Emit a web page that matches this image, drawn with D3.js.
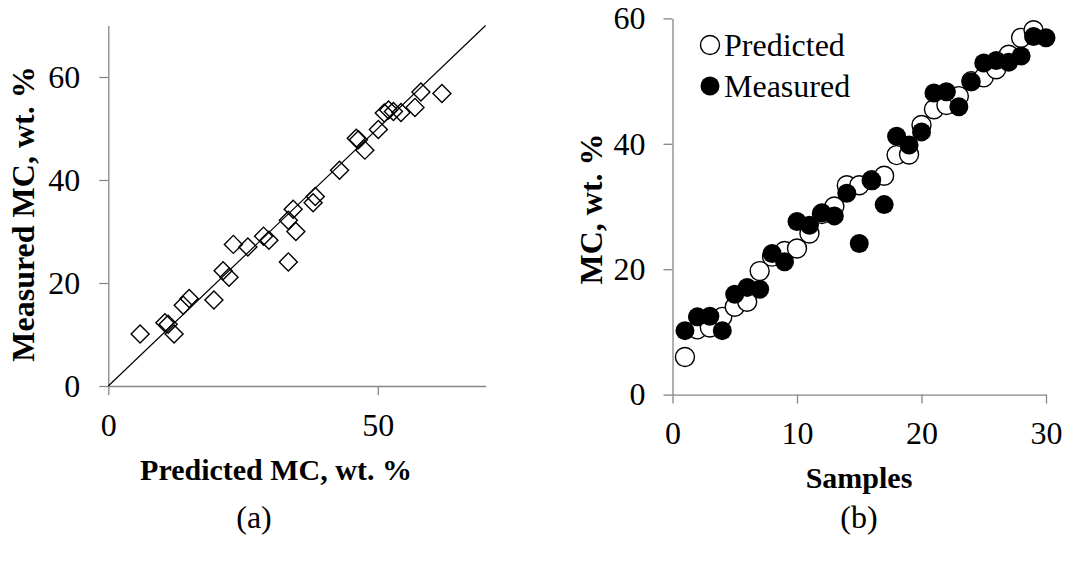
<!DOCTYPE html>
<html>
<head>
<meta charset="utf-8">
<script src="https://cdn.jsdelivr.net/npm/d3@7"></script>
<style>
  body { margin: 0; background: #fff; }
  svg { font-family: "Liberation Serif", "Times New Roman", serif; }
  .axis path, .axis line { stroke: #868686; stroke-width: 1.3; }
  .axis text { font-size: 32px; fill: #000; font-family: "Liberation Serif", serif; }
  .title { font-size: 30px; font-weight: bold; }
  .ytitle { font-size: 32px; font-weight: bold; }
  .caption { font-size: 32px; }
</style>
</head>
<body>
<div id="viz"></div>
<script>
// (a) parity plot
const parityPredicted = [5.9, 10.5, 11.1, 12.2, 13.9, 15.0, 19.6, 21.3, 22.4, 23.2, 25.9, 28.8, 29.8, 33.4, 34.3, 33.4, 34.8,
  38.4, 38.0, 42.9, 46.0, 46.4, 47.6, 50.1, 51.2, 52.0, 52.9, 54.3, 56.9, 58.0, 61.9];
const parityMeasured = [10.1, 12.3, 12.0, 10.1, 15.7, 17.0, 16.7, 22.4, 21.1, 27.5, 27.0, 29.1, 28.3, 24.1, 34.3, 32.2, 30.0,
  36.8, 35.6, 41.9, 48.1, 47.8, 45.8, 49.8, 53.0, 53.6, 53.3, 53.1, 54.1, 57.1, 56.8];

// (b) per sample values
const samples = [1, 2, 3, 4, 5, 6, 7, 8, 9, 10, 11, 12, 13, 14, 15, 16, 17, 18, 19, 20, 21, 22, 23, 24, 25, 26, 27, 28, 29, 30];
const predicted = [6.0, 10.4, 10.7, 12.4, 14.0, 14.8, 19.7, 22.0, 22.9, 23.3, 25.7, 28.8, 30.0, 33.4, 33.4, 34.2, 34.9, 38.2,
  38.3, 43.0, 45.5, 46.2, 47.6, 50.0, 50.6, 51.9, 54.2, 56.9, 58.1, 61.6];
const measured = [10.2, 12.4, 12.5, 10.2, 16.0, 17.1, 16.8, 22.5, 21.2, 27.6, 27.0, 29.0, 28.5, 32.1, 24.1, 34.2, 30.3, 41.2,
  39.8, 41.9, 48.1, 48.3, 45.9, 49.9, 52.9, 53.3, 53.0, 54.0, 57.1, 56.9];

const xTicksA = [0, 50];
const yTicksA = [0, 20, 40, 60];
const xTicksB = [0, 10, 20, 30];
const yTicksB = [0, 20, 40, 60];

const svg = d3.select("#viz").append("svg")
    .attr("width", 1065)
    .attr("height", 561);

// ---------- panel (a) ----------
const xa = d3.scaleLinear().domain([0, 70]).range([108.3, 485.6]);
const ya = d3.scaleLinear().domain([0, 70]).range([386, 25.5]);

svg.append("g")
    .attr("class", "axis")
    .attr("transform", `translate(0,${ya(0)})`)
    .call(d3.axisBottom(xa).tickValues(xTicksA).tickSize(9).tickSizeOuter(0).tickPadding(18));

svg.append("g")
    .attr("class", "axis")
    .attr("transform", `translate(${xa(0)},0)`)
    .call(d3.axisLeft(ya).tickValues(yTicksA).tickSize(9).tickSizeOuter(0).tickPadding(19));

// 1:1 line
svg.append("line")
    .attr("x1", xa(0)).attr("y1", ya(0))
    .attr("x2", xa(70)).attr("y2", ya(70))
    .attr("stroke", "#000")
    .attr("stroke-width", 1.2);

const diamond = d3.symbol(d3.symbolSquare, 162);
svg.append("g")
    .selectAll("path")
    .data(parityPredicted.map((p, i) => ({x: p, y: parityMeasured[i]})))
    .join("path")
        .attr("d", diamond)
        .attr("transform", d => `translate(${xa(d.x)},${ya(d.y)}) rotate(45)`)
        .attr("fill", "none")
        .attr("stroke", "#000")
        .attr("stroke-width", 1.4);

svg.append("text")
    .attr("class", "ytitle")
    .attr("transform", "translate(34,214) rotate(-90)")
    .attr("text-anchor", "middle")
    .text("Measured MC, wt. %");

svg.append("text")
    .attr("class", "title")
    .attr("x", 276).attr("y", 480)
    .attr("text-anchor", "middle")
    .text("Predicted MC, wt. %");

svg.append("text")
    .attr("class", "caption")
    .attr("x", 254).attr("y", 528)
    .attr("text-anchor", "middle")
    .text("(a)");

// ---------- panel (b) ----------
const xb = d3.scaleLinear().domain([0, 30]).range([672.5, 1046]);
const yb = d3.scaleLinear().domain([0, 60]).range([394.6, 18.4]);

svg.append("g")
    .attr("class", "axis")
    .attr("transform", `translate(0,${yb(0)})`)
    .call(d3.axisBottom(xb).tickValues(xTicksB).tickSize(9).tickSizeOuter(0).tickPadding(18));

svg.append("g")
    .attr("class", "axis")
    .attr("transform", `translate(${xb(0)},0)`)
    .call(d3.axisLeft(yb).tickValues(yTicksB).tickSize(9).tickSizeOuter(0).tickPadding(18));

// points beyond the axis max are not shown
const predPts = samples.map((s, i) => ({x: s, y: predicted[i]})).filter(d => d.y <= 60);
const measPts = samples.map((s, i) => ({x: s, y: measured[i]})).filter(d => d.y <= 60);

svg.append("g")
    .selectAll("circle")
    .data(predPts)
    .join("circle")
        .attr("cx", d => xb(d.x))
        .attr("cy", d => yb(d.y))
        .attr("r", 9.5)
        .attr("fill", "#fff")
        .attr("stroke", "#000")
        .attr("stroke-width", 1.4);

svg.append("g")
    .selectAll("circle")
    .data(measPts)
    .join("circle")
        .attr("cx", d => xb(d.x))
        .attr("cy", d => yb(d.y))
        .attr("r", 9.5)
        .attr("fill", "#000");

// legend
const legend = svg.append("g").attr("transform", "translate(710,45)");
legend.append("circle").attr("r", 9.5).attr("fill", "#fff").attr("stroke", "#000").attr("stroke-width", 1.4);
legend.append("text").attr("x", 14).attr("y", 11).attr("font-size", 32).text("Predicted");
legend.append("circle").attr("cy", 41).attr("r", 9.5).attr("fill", "#000");
legend.append("text").attr("x", 14).attr("y", 52).attr("font-size", 32).text("Measured");

svg.append("text")
    .attr("class", "ytitle")
    .attr("transform", "translate(602,209) rotate(-90)")
    .attr("text-anchor", "middle")
    .text("MC, wt. %");

svg.append("text")
    .attr("class", "title")
    .attr("x", 859).attr("y", 488)
    .attr("text-anchor", "middle")
    .text("Samples");

svg.append("text")
    .attr("class", "caption")
    .attr("x", 859).attr("y", 528)
    .attr("text-anchor", "middle")
    .text("(b)");
</script>
</body>
</html>
